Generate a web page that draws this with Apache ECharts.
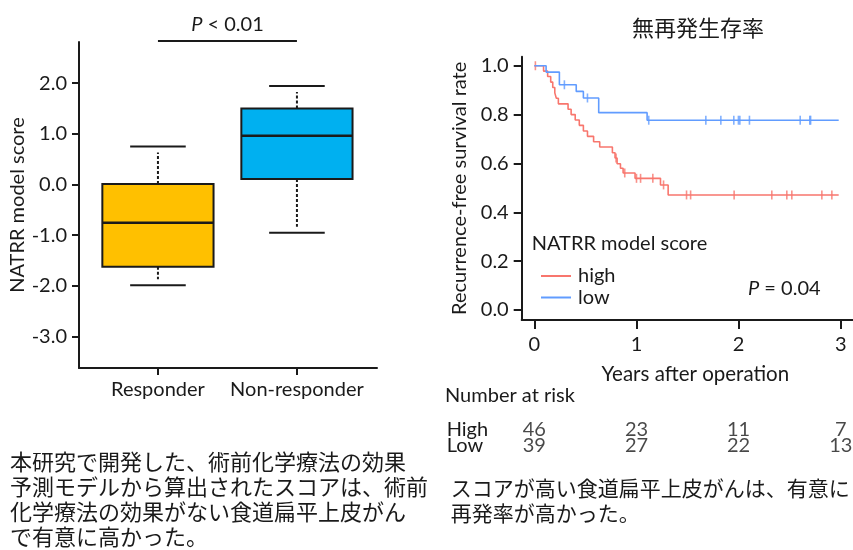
<!DOCTYPE html>
<html><head><meta charset="utf-8">
<script src="https://cdn.jsdelivr.net/npm/echarts@6/dist/echarts.min.js"></script>
<style>html,body{margin:0;padding:0;background:#fff;}#c{width:853px;height:550px;}</style>
</head><body><div id="c"></div>
<script>
// ---- Box plot (left) ----
const groups = ['Responder', 'Non-responder'];
const whiskerLow = [-1.99, -0.95];
const q1 = [-1.625, 0.11];
const median = [-0.757, 0.96];
const q3 = [0.01, 1.50];
const whiskerHigh = [0.75, 1.94];
const boxTicks = [-3, -2, -1, 0, 1, 2];
const boxColors = ['#FFC000', '#00B0F0'];
const pLeft = 'P < 0.01';

// ---- Kaplan-Meier (right) ----
const highTimes = [0, 0.09, 0.13, 0.16, 0.18, 0.20, 0.215, 0.235, 0.33, 0.36, 0.40, 0.44, 0.48, 0.52, 0.58, 0.64, 0.764, 0.79, 0.81, 0.843, 0.869, 0.986, 1.235, 1.31, 2.98];
const highSurv  = [1.0, 0.978, 0.956, 0.933, 0.911, 0.889, 0.867, 0.844, 0.822, 0.800, 0.778, 0.756, 0.733, 0.711, 0.689, 0.667, 0.644, 0.622, 0.599, 0.580, 0.561, 0.539, 0.512, 0.471, 0.471];
const highCensor = [0.01, 0.80, 0.885, 1.0, 1.04, 1.16, 1.265, 1.49, 1.53, 1.956, 2.325, 2.472, 2.521, 2.815, 2.913];
const lowTimes = [0, 0.115, 0.245, 0.41, 0.48, 0.63, 1.104, 2.98];
const lowSurv  = [1.0, 0.974, 0.922, 0.895, 0.868, 0.808, 0.777, 0.777];
const lowCensor = [0.294, 0.52, 1.12, 1.679, 1.826, 1.953, 1.998, 2.012, 2.106, 2.603, 2.697, 2.705];
const kmXTicks = [0, 1, 2, 3];
const kmYTicks = [0, 0.2, 0.4, 0.6, 0.8, 1.0];
const pRight = 'P = 0.04';

// ---- Number at risk ----
const riskRows = ['High', 'Low'];
const riskTimes = [0, 1, 2, 3];
const riskHigh = [46, 23, 11, 7];
const riskLow = [39, 27, 22, 13];

const FONT = 'Lato';
const CJK = '"Noto Sans CJK JP"';
const INK = '#1a1a1a';
const RED = '#F8766D';
const BLUE = '#619CFF';

function survAt(times, surv, t) {
  let v = surv[0];
  for (let i = 0; i < times.length; i++) if (times[i] <= t) v = surv[i];
  return v;
}

const chart = echarts.init(document.getElementById('c'), null, {renderer: 'canvas'});

const axisLineStyle = {color: INK, width: 2};

const option = {
  animation: false,
  backgroundColor: '#fff',
  textStyle: {fontFamily: FONT},
  title: {
    text: '無再発生存率', left: 693, top: 12, textAlign: 'center',
    textStyle: {fontFamily: CJK, fontSize: 22, fontWeight: 'normal', color: INK}
  },
  legend: {
    orient: 'vertical', left: 536, top: 261, itemWidth: 30, itemHeight: 2, itemGap: 1.5,
    data: [{name: 'high', icon: 'rect'}, {name: 'low', icon: 'rect'}],
    textStyle: {fontFamily: FONT, fontSize: 20, lineHeight: 20, color: INK, padding: [0, 0, 0, 2]}
  },
  grid: [
    {left: 79, top: 42, width: 298, height: 326},
    {left: 521.7, top: 56.7, width: 331.3, height: 263.3},
    {left: 521.7, top: 421.5, width: 331.3, height: 31.4}
  ],
  xAxis: [
    {
      gridIndex: 0, type: 'value', min: 0.432, max: 2.576,
      axisLine: {onZero: false, lineStyle: axisLineStyle},
      axisTick: {customValues: [1, 2], length: 7, lineStyle: axisLineStyle},
      axisLabel: {customValues: [1, 2], formatter: v => groups[Math.round(v) - 1], fontSize: 20, color: INK, margin: 12, fontFamily: FONT},
      splitLine: {show: false}
    },
    {
      gridIndex: 1, type: 'value', min: -0.124, max: 3.12,
      name: 'Years after operation', nameLocation: 'middle', nameGap: 44,
      nameTextStyle: {fontSize: 20.5, color: INK, fontFamily: FONT, padding: [0, 0, 0, 16]},
      axisLine: {onZero: false, lineStyle: axisLineStyle},
      axisTick: {customValues: kmXTicks, length: 9, lineStyle: axisLineStyle},
      axisLabel: {customValues: kmXTicks, formatter: v => String(v), fontSize: 20, color: INK, margin: 15, fontFamily: FONT},
      splitLine: {show: false}
    },
    {
      gridIndex: 2, type: 'value', min: -0.124, max: 3.12, show: false
    }
  ],
  yAxis: [
    {
      gridIndex: 0, type: 'value', min: -3.62, max: 2.81,
      name: 'NATRR model score', nameLocation: 'middle', nameGap: 50,
      nameTextStyle: {fontSize: 20, color: INK, fontFamily: FONT},
      axisLine: {onZero: false, lineStyle: axisLineStyle},
      axisTick: {customValues: boxTicks, length: 7, lineStyle: axisLineStyle},
      axisLabel: {customValues: boxTicks, formatter: v => v.toFixed(1), fontSize: 20, color: INK, margin: 12, fontFamily: FONT},
      splitLine: {show: false}
    },
    {
      gridIndex: 1, type: 'value', min: -0.041, max: 1.037,
      name: 'Recurrence-free survival rate', nameLocation: 'middle', nameGap: 52,
      nameTextStyle: {fontSize: 20, color: INK, fontFamily: FONT},
      axisLine: {onZero: false, lineStyle: axisLineStyle},
      axisTick: {customValues: kmYTicks, length: 8, lineStyle: axisLineStyle},
      axisLabel: {customValues: kmYTicks, formatter: v => v.toFixed(1), fontSize: 20, color: INK, margin: 13, fontFamily: FONT},
      splitLine: {show: false}
    },
    {
      gridIndex: 2, type: 'category', data: riskRows, inverse: true,
      axisLine: {show: false}, axisTick: {show: false},
      axisLabel: {interval: 0, align: 'left', margin: 75, fontSize: 20, color: INK, fontFamily: FONT}
    }
  ],
  series: [
    {
      type: 'custom', name: 'box', xAxisIndex: 0, yAxisIndex: 0, clip: false,
      data: groups.map((g, i) => [i + 1, whiskerLow[i], q1[i], median[i], q3[i], whiskerHigh[i]]),
      renderItem: function (params, api) {
        const x = api.value(0);
        const pLo = api.coord([x, api.value(1)]);
        const pA = api.coord([x, api.value(2)]);
        const pM = api.coord([x, api.value(3)]);
        const pB = api.coord([x, api.value(4)]);
        const pHi = api.coord([x, api.value(5)]);
        const boxW = api.size([0.8, 0])[0];
        const capW = api.size([0.4, 0])[0];
        const cx = pA[0];
        const gap = 6;
        const ln = {stroke: INK, lineWidth: 2};
        const dash = {stroke: INK, lineWidth: 2, lineDash: [3, 2]};
        return {type: 'group', children: [
          {type: 'line', shape: {x1: cx, y1: pB[1], x2: cx, y2: pHi[1] + gap}, style: dash},
          {type: 'line', shape: {x1: cx, y1: pA[1], x2: cx, y2: pLo[1] - gap}, style: dash},
          {type: 'line', shape: {x1: cx - capW / 2, y1: pHi[1], x2: cx + capW / 2, y2: pHi[1]}, style: ln},
          {type: 'line', shape: {x1: cx - capW / 2, y1: pLo[1], x2: cx + capW / 2, y2: pLo[1]}, style: ln},
          {type: 'rect', shape: {x: cx - boxW / 2, y: pB[1], width: boxW, height: pA[1] - pB[1]},
            style: {fill: boxColors[params.dataIndex], stroke: INK, lineWidth: 2}},
          {type: 'line', shape: {x1: cx - boxW / 2, y1: pM[1], x2: cx + boxW / 2, y2: pM[1]}, style: {stroke: INK, lineWidth: 2.5}}
        ]};
      }
    },
    {
      type: 'custom', name: 'bracket', xAxisIndex: 0, yAxisIndex: 0, clip: false,
      data: [[1, 2, 2.83]],
      renderItem: function (params, api) {
        const a = api.coord([api.value(0), api.value(2)]);
        const b = api.coord([api.value(1), api.value(2)]);
        return {type: 'group', children: [
          {type: 'line', shape: {x1: a[0], y1: a[1], x2: b[0], y2: b[1]}, style: {stroke: INK, lineWidth: 2}},
          {type: 'text', x: (a[0] + b[0]) / 2, y: a[1] - 16,
            style: {text: '{i|P}' + pLeft.slice(1), rich: {i: {fontStyle: 'italic', fontSize: 20, fontFamily: FONT, fill: INK}},
              fontSize: 20, fontFamily: FONT, fill: INK, align: 'center', verticalAlign: 'middle'}}
        ]};
      }
    },
    {
      type: 'line', name: 'high', xAxisIndex: 1, yAxisIndex: 1, step: 'end', symbol: 'none',
      color: RED, itemStyle: {color: RED}, lineStyle: {color: RED, width: 1.6},
      data: highTimes.map((t, i) => [t, highSurv[i]])
    },
    {
      type: 'line', name: 'low', xAxisIndex: 1, yAxisIndex: 1, step: 'end', symbol: 'none',
      color: BLUE, itemStyle: {color: BLUE}, lineStyle: {color: BLUE, width: 1.6},
      data: lowTimes.map((t, i) => [t, lowSurv[i]])
    },
    {
      type: 'scatter', name: 'high censored', xAxisIndex: 1, yAxisIndex: 1,
      symbol: 'rect', symbolSize: [1.6, 9], itemStyle: {color: RED},
      data: highCensor.map(t => [t, survAt(highTimes, highSurv, t)])
    },
    {
      type: 'scatter', name: 'low censored', xAxisIndex: 1, yAxisIndex: 1,
      symbol: 'rect', symbolSize: [1.6, 9], itemStyle: {color: BLUE},
      data: lowCensor.map(t => [t, survAt(lowTimes, lowSurv, t)])
    },
    {
      type: 'scatter', name: 'risk', xAxisIndex: 2, yAxisIndex: 2,
      symbolSize: 1, itemStyle: {color: 'rgba(0,0,0,0)'},
      label: {show: true, position: 'inside', formatter: p => String(p.value[2]), fontSize: 20, color: INK, fontFamily: FONT},
      data: riskTimes.map((t, i) => [t, 'High', riskHigh[i]]).concat(riskTimes.map((t, i) => [t, 'Low', riskLow[i]]))
    }
  ],
  graphic: [
    {type: 'text', left: 531.7, top: 234, style: {text: 'NATRR model score', fontSize: 20, fontFamily: FONT, fill: INK}},
    {type: 'text', left: 748, top: 279, style: {text: '{i|P}' + pRight.slice(1), rich: {i: {fontStyle: 'italic', fontSize: 20, fontFamily: FONT, fill: INK}}, fontSize: 20, fontFamily: FONT, fill: INK}},
    {type: 'text', left: 445, top: 386, style: {text: 'Number at risk', fontSize: 20, fontFamily: FONT, fill: INK}},
    {type: 'text', left: 10, top: 449, style: {text: '本研究で開発した、術前化学療法の効果\n予測モデルから算出されたスコアは、術前\n化学療法の効果がない食道扁平上皮がん\nで有意に高かった。', fontSize: 22, lineHeight: 25, fontFamily: CJK, fill: INK}},
    {type: 'text', left: 450.7, top: 476, style: {text: 'スコアが高い食道扁平上皮がんは、有意に\n再発率が高かった。', fontSize: 21, lineHeight: 25, fontFamily: CJK, fill: INK}}
  ]
};
chart.setOption(option);
</script>
</body></html>
